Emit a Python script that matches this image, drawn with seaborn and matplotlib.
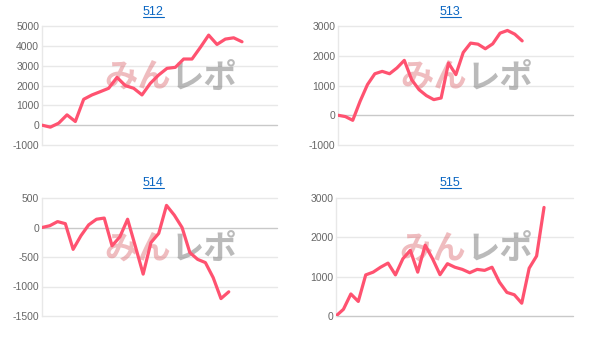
import matplotlib
matplotlib.use("Agg")
import matplotlib.pyplot as plt
import seaborn as sns
import numpy as np
import pandas as pd
from matplotlib.lines import Line2D

# ---- data ----
titles = ["512", "513", "514", "515"]
vals_512 = [0, -100, 100, 520, 185, 1305, 1525, 1690, 1860, 2410, 1995, 1860, 1525,
            2110, 2530, 2865, 2915, 3335, 3335, 3920, 4540, 4070, 4340, 4405, 4205]
vals_513 = [0, -45, -170, 470, 1030, 1395, 1475, 1395, 1590, 1845, 1195, 860, 660,
            525, 580, 1755, 1365, 2110, 2425, 2390, 2235, 2400, 2760, 2850, 2725, 2500]
vals_514 = [0, 30, 100, 65, -370, -140, 45, 140, 160, -310, -160, 140, -320, -790,
            -255, -100, 375, 210, 0, -425, -540, -595, -850, -1205, -1090]
vals_515 = [0, 170, 560, 370, 1045, 1115, 1240, 1345, 1045, 1455, 1670, 1115, 1800,
            1455, 1050, 1330, 1240, 1185, 1100, 1185, 1160, 1240, 860, 600, 540, 325,
            1215, 1525, 2760]
series = [vals_512, vals_513, vals_514, vals_515]
yticks = [[-1000, 0, 1000, 2000, 3000, 4000, 5000],
          [-1000, 0, 1000, 2000, 3000],
          [-1500, -1000, -500, 0, 500],
          [0, 1000, 2000, 3000]]
xmax = [28.2, 31.9, 30.2, 31.9]

# ---- style ----
sns.set_style("white")
plt.rcParams["font.family"] = ["Liberation Sans", "DejaVu Sans"]
plt.rcParams["axes.unicode_minus"] = False

W, H = 605, 340
fig = plt.figure(figsize=(W / 100, H / 100), dpi=100)

# axes rects in pixels: left, top, right, bottom
rects_px = [(42, 26, 277, 145), (338, 26, 573, 145),
            (42, 198, 277, 316), (336, 198, 573, 316)]
title_px = [(153, 15), (450, 15), (153, 186), (450, 186)]

LINE = "#ff5270"
GRID = "#e8e8e8"
ZERO = "#c9c9c9"
LINK = "#0a66c2"

for i in range(4):
    l, t, r, b = rects_px[i]
    ax = fig.add_axes([l / W, 1 - b / H, (r - l) / W, (b - t) / H])
    df = pd.DataFrame({"x": np.arange(len(series[i])), "y": series[i]})
    sns.lineplot(data=df, x="x", y="y", ax=ax, color=LINE, linewidth=2.3,
                 solid_joinstyle="round", solid_capstyle="round", zorder=5)
    ax.set_xlim(0, xmax[i])
    ax.set_ylim(yticks[i][0], yticks[i][-1])
    ax.set_yticks(yticks[i])
    ax.set_yticklabels([str(v) for v in yticks[i]])
    ax.set_xticks([])
    ax.set_xlabel("")
    ax.set_ylabel("")
    ax.tick_params(axis="y", length=0, pad=2, labelsize=7.5, labelcolor="#666666")
    for v in yticks[i]:
        ax.axhline(v, color=ZERO if v == 0 else GRID, lw=1.0, zorder=1, clip_on=False)
    for s in ["top", "right", "bottom"]:
        ax.spines[s].set_visible(False)
    ax.spines["left"].set_color(GRID)
    ax.spines["left"].set_linewidth(1.0)
    ax.patch.set_alpha(0)

    # watermark
    ax.text(0.549, 0.56, "みん", transform=ax.transAxes, ha="right", va="center",
            fontsize=24, fontweight="bold", color="#e07a80", alpha=0.5,
            family=["Noto Sans CJK JP", "DejaVu Sans"], zorder=2)
    ax.text(0.549, 0.56, "レポ", transform=ax.transAxes, ha="left", va="center",
            fontsize=24, fontweight="bold", color="#777777", alpha=0.5,
            family=["Noto Sans CJK JP", "DejaVu Sans"], zorder=2)

    # title (link style)
    cx, by = title_px[i]
    fig.text(cx / W, 1 - by / H, titles[i], ha="center", va="baseline",
             fontsize=9, color=LINK)
    fig.add_artist(Line2D([(cx - 10.5) / W, (cx + 10.5) / W],
                          [1 - (by + 1.5) / H, 1 - (by + 1.5) / H],
                          color=LINK, lw=0.8))

fig.savefig("out.png", dpi=100)
